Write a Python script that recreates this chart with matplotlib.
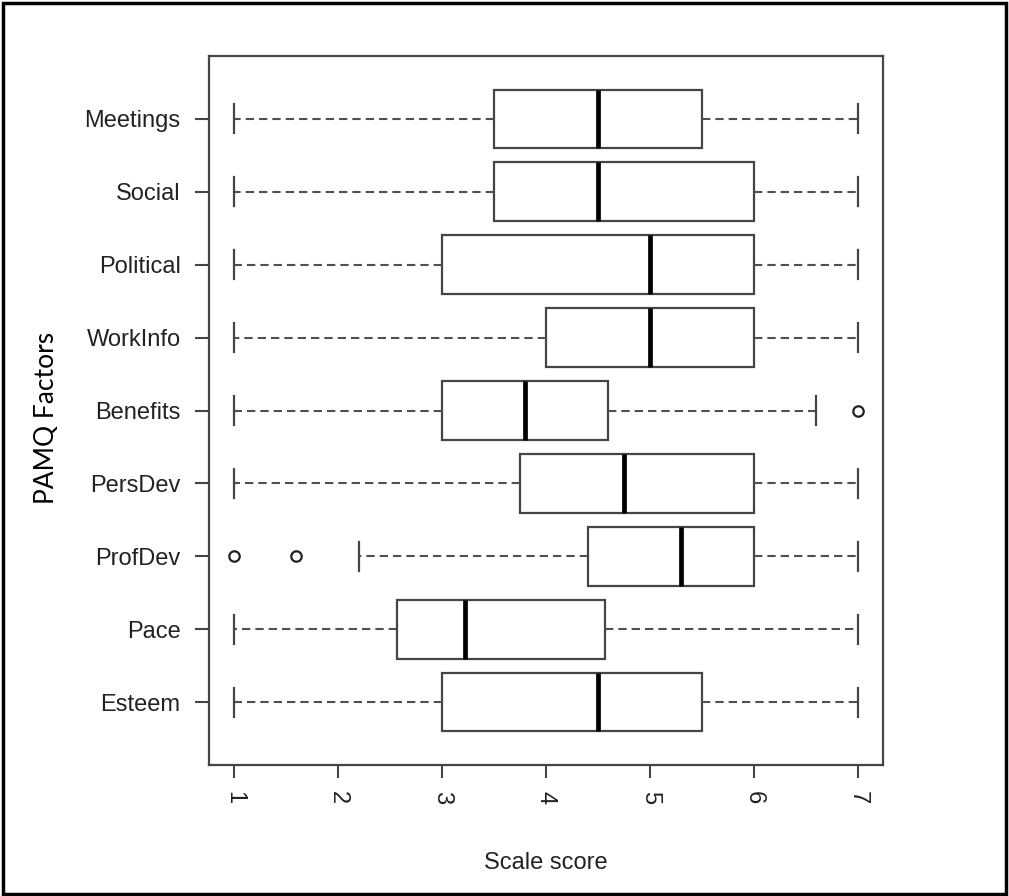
import matplotlib
matplotlib.use("Agg")
import matplotlib.pyplot as plt
from matplotlib.patches import Rectangle

# ---- data ----
factors = ["Esteem", "Pace", "ProfDev", "PersDev", "Benefits",
           "WorkInfo", "Political", "Social", "Meetings"]
whis_lo = [1.0, 1.0, 2.2, 1.0, 1.0, 1.0, 1.0, 1.0, 1.0]
q1 = [3.0, 2.57, 4.4, 3.75, 3.0, 4.0, 3.0, 3.5, 3.5]
medians = [4.5, 3.22, 5.3, 4.75, 3.8, 5.0, 5.0, 4.5, 4.5]
q3 = [5.5, 4.57, 6.0, 6.0, 4.6, 6.0, 6.0, 6.0, 5.5]
whis_hi = [7.0, 7.0, 7.0, 7.0, 6.6, 7.0, 7.0, 7.0, 7.0]
outliers = [[], [], [1.0, 1.6], [], [7.0], [], [], [], []]
x_ticks = [1, 2, 3, 4, 5, 6, 7]

x_label = "Scale score"
y_label = "PAMQ Factors"

stats = []
for name, lo, a, m, b, hi, fl in zip(factors, whis_lo, q1, medians, q3, whis_hi, outliers):
    stats.append(dict(label=name, whislo=lo, q1=a, med=m, q3=b, whishi=hi, fliers=fl))

W, H = 1009, 896
fig = plt.figure(figsize=(W / 100, H / 100), dpi=100)
ax = fig.add_axes([209 / W, 1 - 765 / H, (883 - 209) / W, (765 - 56) / H])

edge = "#454545"
positions = list(range(1, len(factors) + 1))
ax.bxp(stats, positions=positions, vert=False, widths=0.8,
       showfliers=True, patch_artist=True,
       boxprops=dict(facecolor="white", edgecolor=edge, linewidth=1.6),
       medianprops=dict(color="black", linewidth=3.4, solid_capstyle="butt"),
       whiskerprops=dict(color="#505050", linewidth=1.5, linestyle=(0, (4, 2.4))),
       capprops=dict(color=edge, linewidth=1.6),
       capwidths=0.4,
       flierprops=dict(marker="o", markersize=7.5, markerfacecolor="none",
                       markeredgecolor="#222222", markeredgewidth=1.6))

ax.set_xlim(0.76, 7.24)
ax.set_ylim(0.14, 9.86)
ax.set_xticks(x_ticks)
ax.set_xticklabels([str(t) for t in x_ticks], rotation=-90,
                   fontfamily="Liberation Sans", fontsize=17, color="#222222")
ax.set_yticks(positions)
ax.set_yticklabels(factors, fontfamily="Liberation Sans", fontsize=17, color="#222222")
ax.tick_params(axis="y", length=10, width=1.5, color=edge, pad=10.5)
ax.tick_params(axis="x", length=9.5, width=1.5, color=edge, pad=9)
for s in ax.spines.values():
    s.set_color(edge)
    s.set_linewidth(1.6)

fig.text(546 / W, 1 - 863 / H, x_label, ha="center", va="center",
         fontfamily="Liberation Sans", fontsize=17, color="#222222")
fig.text(47 / W, 1 - 418 / H, y_label, ha="center", va="center", rotation=90,
         fontfamily="Lato", fontsize=19, color="black")

fig.patches.append(Rectangle((3 / W, 1 - 894 / H), (1006 - 3) / W, (894 - 3) / H,
                             transform=fig.transFigure, fill=False,
                             edgecolor="black", linewidth=2.5))

fig.savefig("out.png", dpi=100, facecolor="white")
